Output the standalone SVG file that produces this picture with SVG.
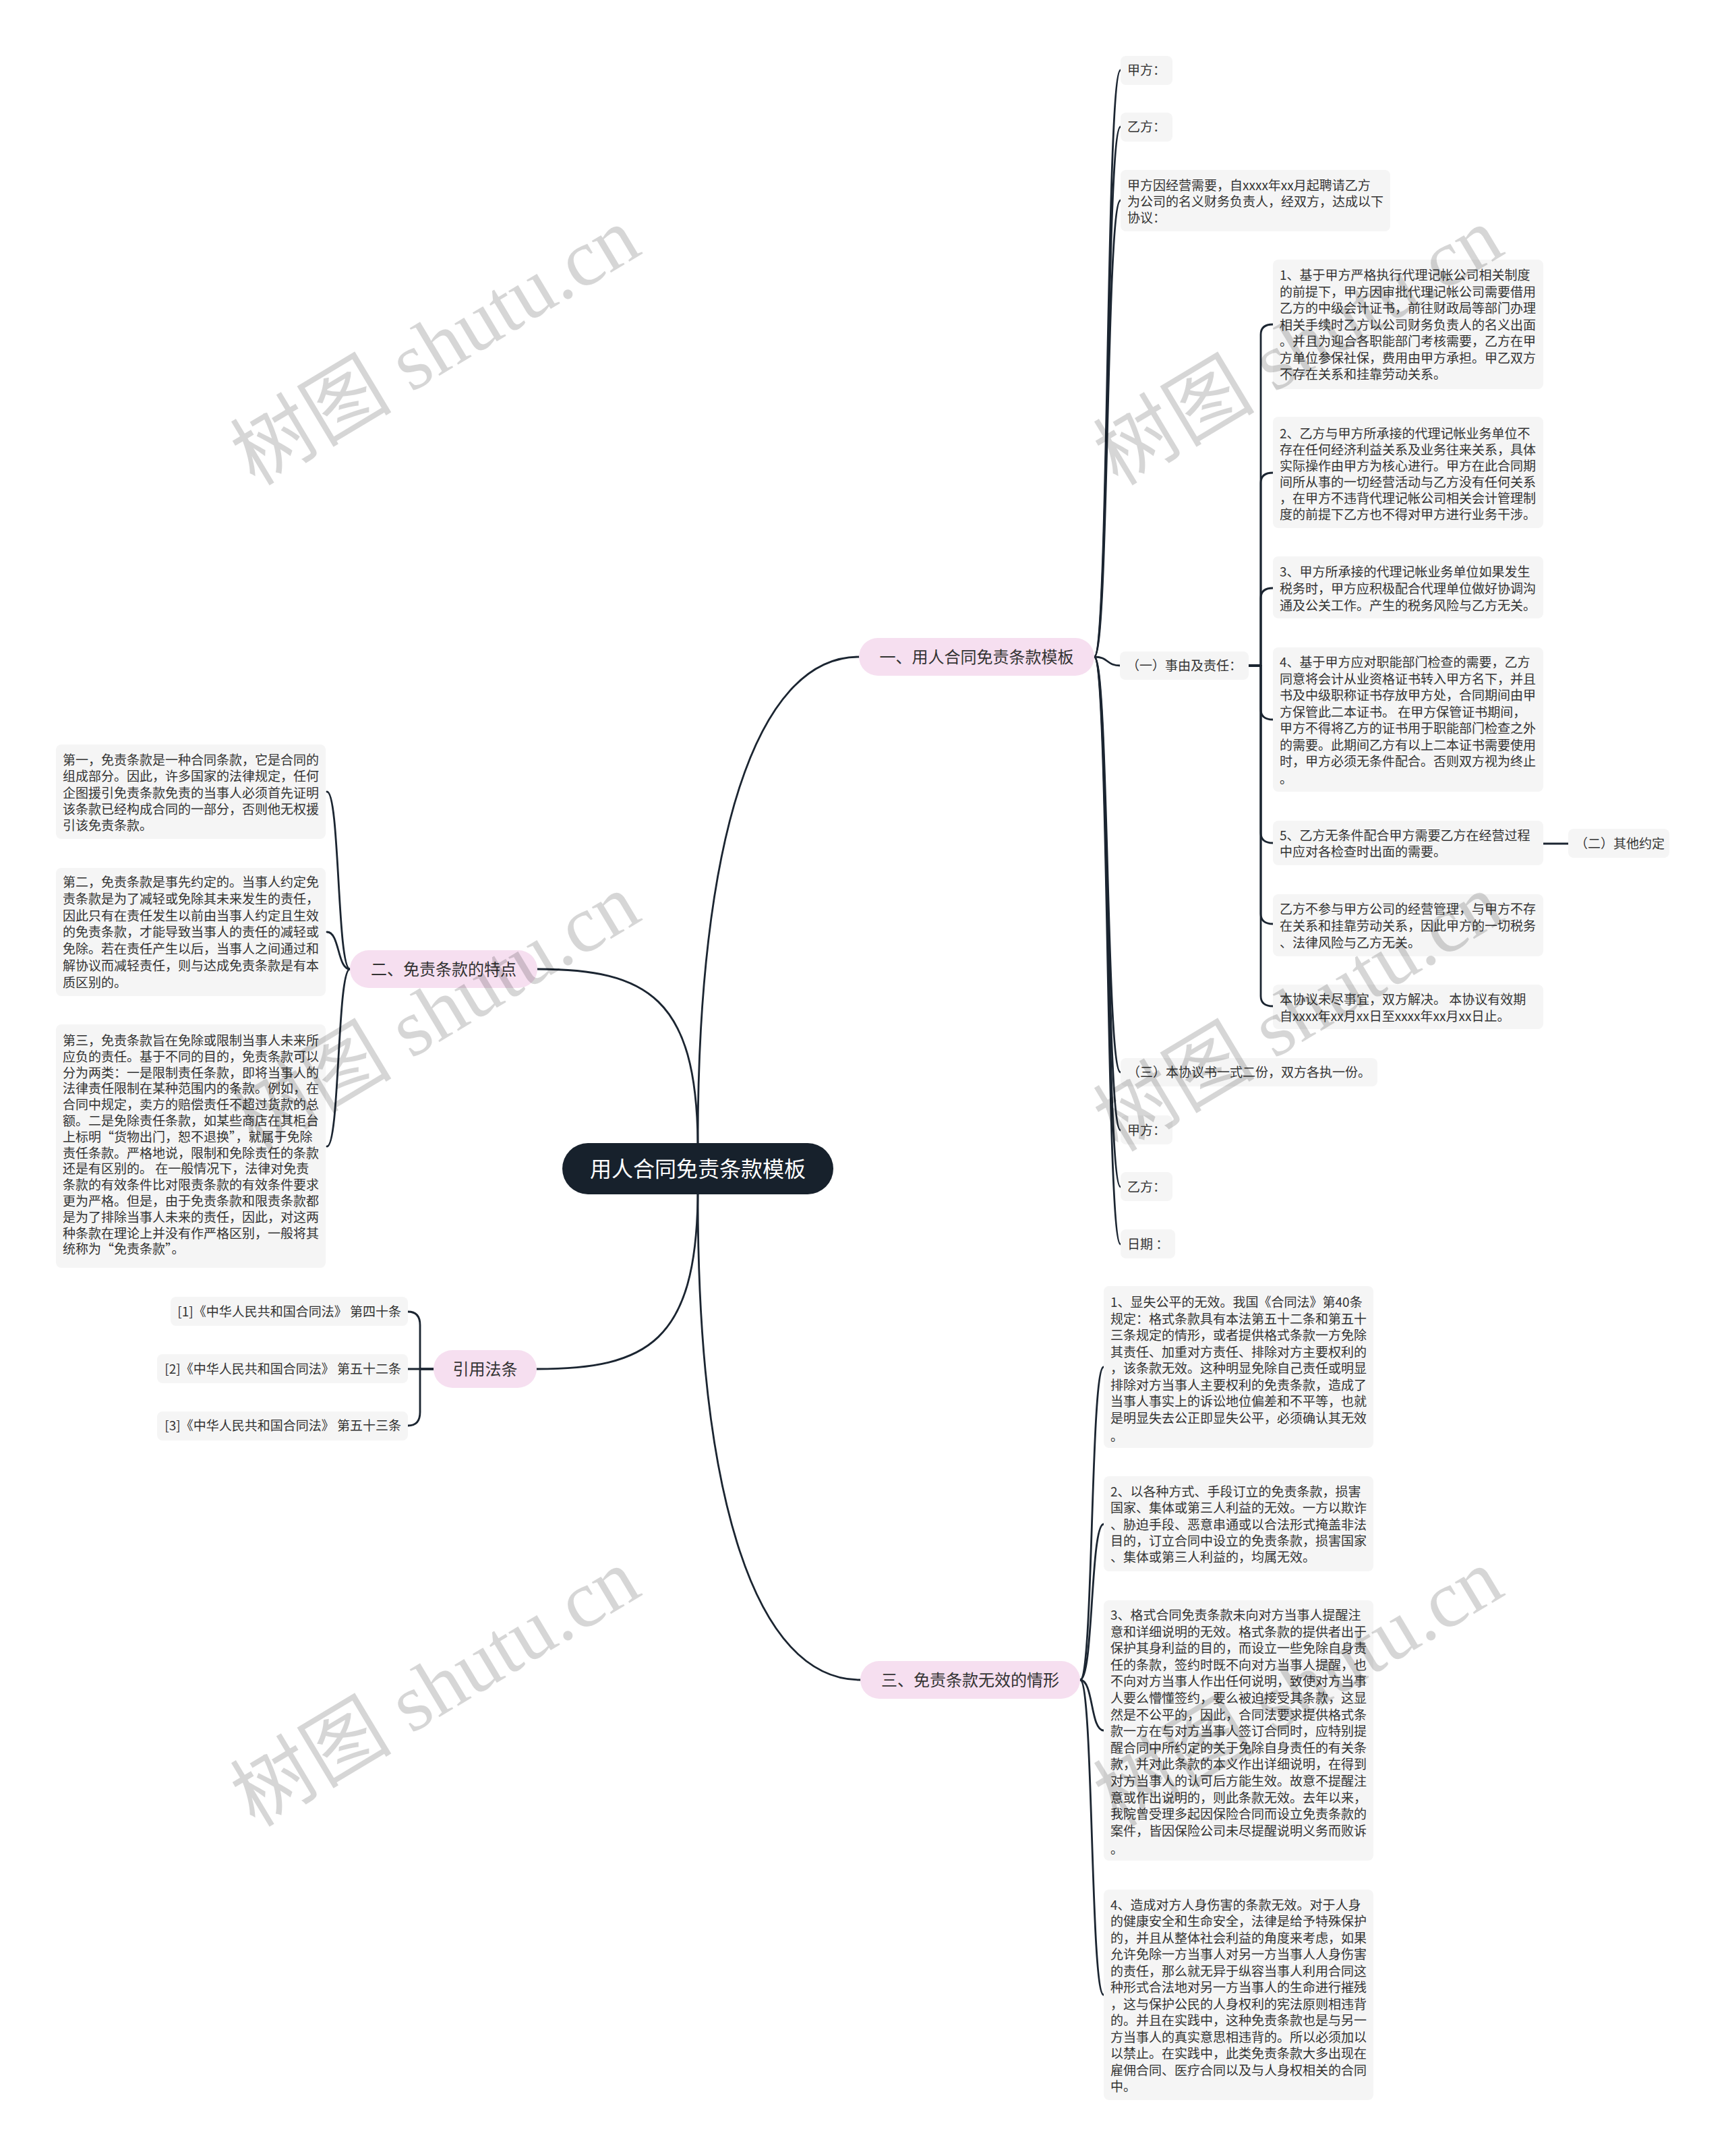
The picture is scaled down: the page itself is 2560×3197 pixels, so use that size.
<svg xmlns="http://www.w3.org/2000/svg" width="2560" height="3197" viewBox="0 0 2560 3197">
<style>
.bg{fill:#ffffff}
.leaf{fill:#f5f5f5}
.pink{fill:#f6dff0}
.root{fill:#17212c}
.t{font-family:"Noto Sans CJK SC","Liberation Sans",sans-serif;font-size:19px;fill:#333333}
.bt{font-family:"Noto Sans CJK SC","Liberation Sans",sans-serif;font-size:24px;fill:#333333}
.rt{font-family:"Noto Sans CJK SC","Liberation Sans",sans-serif;font-size:32px;fill:#ffffff}
.link{fill:none;stroke:#1b2531;stroke-width:2.8;stroke-linecap:round;stroke-linejoin:round}
.wm{font-family:"Liberation Serif","Noto Sans CJK SC",serif;font-size:120px;fill:#000000;fill-opacity:0.16}
</style>
<rect class="bg" x="0" y="0" width="2560" height="3197"/>

<g id="connectors">
  <!-- root to main branches -->
  <path class="link" d="M1035 1695 C1035 1250 1120 974 1274 974"/>
  <path class="link" d="M797 1437 C960 1437 1033 1480 1035 1695"/>
  <path class="link" d="M796 2030 C960 2030 1033 1990 1035 1771"/>
  <path class="link" d="M1035 1771 C1035 2220 1120 2491 1276 2491"/>
  <!-- branch 1 children -->
  <path class="link" d="M1623 974 C1645 974 1640 104 1662 104"/>
  <path class="link" d="M1623 974 C1645 974 1640 188 1662 188"/>
  <path class="link" d="M1623 974 C1645 974 1640 297 1662 297"/>
  <path class="link" d="M1623 974 C1645 974 1640 987 1662 987"/>
  <path class="link" d="M1623 974 C1645 974 1640 1590 1662 1590"/>
  <path class="link" d="M1623 974 C1645 974 1640 1676 1662 1676"/>
  <path class="link" d="M1623 974 C1645 974 1640 1760 1662 1760"/>
  <path class="link" d="M1623 974 C1645 974 1640 1845 1662 1845"/>
  <!-- (一) bracket -->
  <path class="link" d="M1852 987 H1870 V496 Q1870 481 1888 481"/>
  <path class="link" d="M1852 987 H1870 V716 Q1870 701 1888 701"/>
  <path class="link" d="M1852 987 H1870 V887 Q1870 872 1888 872"/>
  <path class="link" d="M1852 987 H1870 V1052 Q1870 1067 1888 1067"/>
  <path class="link" d="M1852 987 H1870 V1235 Q1870 1250 1888 1250"/>
  <path class="link" d="M1852 987 H1870 V1355 Q1870 1370 1888 1370"/>
  <path class="link" d="M1852 987 H1870 V1477 Q1870 1492 1888 1492"/>
  <path class="link" d="M2288 1251 H2326"/>
  <!-- branch 2 children -->
  <path class="link" d="M519 1437 C500 1437 504 1174 485 1174"/>
  <path class="link" d="M519 1437 C500 1437 504 1382 485 1382"/>
  <path class="link" d="M519 1437 C500 1437 504 1700 485 1700"/>
  <!-- law bracket -->
  <path class="link" d="M643 2030 H605"/>
  <path class="link" d="M643 2030 H623 V1965 Q623 1945 605 1945"/>
  <path class="link" d="M643 2030 H623 V2094 Q623 2114 605 2114"/>
  <!-- branch 3 children -->
  <path class="link" d="M1602 2491 C1622 2491 1617 2027 1637 2027"/>
  <path class="link" d="M1602 2491 C1622 2491 1617 2260 1637 2260"/>
  <path class="link" d="M1602 2491 C1622 2491 1617 2566 1637 2566"/>
  <path class="link" d="M1602 2491 C1622 2491 1617 2958 1637 2958"/>
</g>

<g id="root">
  <rect class="root" x="834" y="1695" width="402" height="76" rx="38"/>
  <text class="rt" x="1035" y="1745" text-anchor="middle">用人合同免责条款模板</text>
</g>

<g id="branch1">
  <rect class="pink" x="1274" y="946" width="349" height="56" rx="28"/>
  <text class="bt" x="1448.5" y="983" text-anchor="middle">一、用人合同免责条款模板</text>
</g>
<g id="branch2">
  <rect class="pink" x="519" y="1409" width="278" height="56" rx="28"/>
  <text class="bt" x="658" y="1446" text-anchor="middle">二、免责条款的特点</text>
</g>
<g id="branch-law">
  <rect class="pink" x="643" y="2002" width="153" height="56" rx="28"/>
  <text class="bt" x="719.5" y="2039" text-anchor="middle">引用法条</text>
</g>
<g id="branch3">
  <rect class="pink" x="1276" y="2463" width="326" height="56" rx="28"/>
  <text class="bt" x="1439" y="2500" text-anchor="middle">三、免责条款无效的情形</text>
</g>

<g id="n-jiafang1">
  <rect class="leaf" x="1662" y="83" width="77" height="43" rx="8"/>
  <text class="t" x="1672" y="111">甲方：</text>
</g>
<g id="n-yifang1">
  <rect class="leaf" x="1662" y="167" width="77" height="43" rx="8"/>
  <text class="t" x="1672" y="195">乙方：</text>
</g>
<g id="n-intro">
  <rect class="leaf" x="1662" y="252" width="400" height="91" rx="8"/>
  <text class="t" x="1672" y="282"><tspan x="1672">甲方因经营需要，自xxxx年xx月起聘请乙方</tspan><tspan x="1672" dy="24">为公司的名义财务负责人，经双方，达成以下</tspan><tspan x="1672" dy="24">协议：</tspan></text>
</g>
<g id="n-shiyou">
  <rect class="leaf" x="1661" y="966" width="191" height="42" rx="8"/>
  <text class="t" x="1671" y="994">（一）事由及责任：</text>
</g>
<g id="n-item1">
  <rect class="leaf" x="1888" y="385" width="401" height="192" rx="8"/>
  <text class="t" x="1898" y="415"><tspan x="1898">1、基于甲方严格执行代理记帐公司相关制度</tspan><tspan x="1898" dy="24.5">的前提下，甲方因审批代理记帐公司需要借用</tspan><tspan x="1898" dy="24.5">乙方的中级会计证书，前往财政局等部门办理</tspan><tspan x="1898" dy="24.5">相关手续时乙方以公司财务负责人的名义出面</tspan><tspan x="1898" dy="24.5">。并且为迎合各职能部门考核需要，乙方在甲</tspan><tspan x="1898" dy="24.5">方单位参保社保，费用由甲方承担。甲乙双方</tspan><tspan x="1898" dy="24.5">不存在关系和挂靠劳动关系。</tspan></text>
</g>
<g id="n-item2">
  <rect class="leaf" x="1888" y="618" width="401" height="165" rx="8"/>
  <text class="t" x="1898" y="650"><tspan x="1898">2、乙方与甲方所承接的代理记帐业务单位不</tspan><tspan x="1898" dy="24">存在任何经济利益关系及业务往来关系，具体</tspan><tspan x="1898" dy="24">实际操作由甲方为核心进行。甲方在此合同期</tspan><tspan x="1898" dy="24">间所从事的一切经营活动与乙方没有任何关系</tspan><tspan x="1898" dy="24">，在甲方不违背代理记帐公司相关会计管理制</tspan><tspan x="1898" dy="24">度的前提下乙方也不得对甲方进行业务干涉。</tspan></text>
</g>
<g id="n-item3">
  <rect class="leaf" x="1888" y="825" width="401" height="92" rx="8"/>
  <text class="t" x="1898" y="855"><tspan x="1898">3、甲方所承接的代理记帐业务单位如果发生</tspan><tspan x="1898" dy="25">税务时，甲方应积极配合代理单位做好协调沟</tspan><tspan x="1898" dy="25">通及公关工作。产生的税务风险与乙方无关。</tspan></text>
</g>
<g id="n-item4">
  <rect class="leaf" x="1888" y="960" width="401" height="214" rx="8"/>
  <text class="t" x="1898" y="989"><tspan x="1898">4、基于甲方应对职能部门检查的需要，乙方</tspan><tspan x="1898" dy="24.5">同意将会计从业资格证书转入甲方名下，并且</tspan><tspan x="1898" dy="24.5">书及中级职称证书存放甲方处，合同期间由甲</tspan><tspan x="1898" dy="24.5">方保管此二本证书。 在甲方保管证书期间，</tspan><tspan x="1898" dy="24.5">甲方不得将乙方的证书用于职能部门检查之外</tspan><tspan x="1898" dy="24.5">的需要。此期间乙方有以上二本证书需要使用</tspan><tspan x="1898" dy="24.5">时，甲方必须无条件配合。否则双方视为终止</tspan><tspan x="1898" dy="26">。</tspan></text>
</g>
<g id="n-item5">
  <rect class="leaf" x="1888" y="1217" width="401" height="66" rx="8"/>
  <text class="t" x="1898" y="1246"><tspan x="1898">5、乙方无条件配合甲方需要乙方在经营过程</tspan><tspan x="1898" dy="24">中应对各检查时出面的需要。</tspan></text>
</g>
<g id="n-other">
  <rect class="leaf" x="2326" y="1229" width="150" height="43" rx="8"/>
  <text class="t" x="2336" y="1258">（二）其他约定</text>
</g>
<g id="n-item6">
  <rect class="leaf" x="1888" y="1326" width="401" height="92" rx="8"/>
  <text class="t" x="1898" y="1355"><tspan x="1898">乙方不参与甲方公司的经营管理，与甲方不存</tspan><tspan x="1898" dy="25">在关系和挂靠劳动关系，因此甲方的一切税务</tspan><tspan x="1898" dy="25">、法律风险与乙方无关。</tspan></text>
</g>
<g id="n-item7">
  <rect class="leaf" x="1888" y="1460" width="401" height="66" rx="8"/>
  <text class="t" x="1898" y="1489"><tspan x="1898">本协议未尽事宜，双方解决。 本协议有效期</tspan><tspan x="1898" dy="25">自xxxx年xx月xx日至xxxx年xx月xx日止。</tspan></text>
</g>
<g id="n-san">
  <rect class="leaf" x="1662" y="1569" width="381" height="42" rx="8"/>
  <text class="t" x="1672" y="1597">（三）本协议书一式二份，双方各执一份。</text>
</g>
<g id="n-jiafang2">
  <rect class="leaf" x="1662" y="1654" width="77" height="43" rx="8"/>
  <text class="t" x="1672" y="1683">甲方：</text>
</g>
<g id="n-yifang2">
  <rect class="leaf" x="1662" y="1738" width="77" height="43" rx="8"/>
  <text class="t" x="1672" y="1767">乙方：</text>
</g>
<g id="n-date">
  <rect class="leaf" x="1662" y="1823" width="81" height="43" rx="8"/>
  <text class="t" x="1672" y="1852">日期 ：</text>
</g>

<g id="n-feature1">
  <rect class="leaf" x="83" y="1104" width="400" height="140" rx="8"/>
  <text class="t" x="93" y="1134"><tspan x="93">第一，免责条款是一种合同条款，它是合同的</tspan><tspan x="93" dy="24.3">组成部分。因此，许多国家的法律规定，任何</tspan><tspan x="93" dy="24.3">企图援引免责条款免责的当事人必须首先证明</tspan><tspan x="93" dy="24.3">该条款已经构成合同的一部分，否则他无权援</tspan><tspan x="93" dy="24.3">引该免责条款。</tspan></text>
</g>
<g id="n-feature2">
  <rect class="leaf" x="83" y="1287" width="400" height="190" rx="8"/>
  <text class="t" x="93" y="1315"><tspan x="93">第二，免责条款是事先约定的。当事人约定免</tspan><tspan x="93" dy="24.8">责条款是为了减轻或免除其未来发生的责任，</tspan><tspan x="93" dy="24.8">因此只有在责任发生以前由当事人约定且生效</tspan><tspan x="93" dy="24.8">的免责条款，才能导致当事人的责任的减轻或</tspan><tspan x="93" dy="24.8">免除。若在责任产生以后，当事人之间通过和</tspan><tspan x="93" dy="24.8">解协议而减轻责任，则与达成免责条款是有本</tspan><tspan x="93" dy="24.8">质区别的。</tspan></text>
</g>
<g id="n-feature3">
  <rect class="leaf" x="83" y="1519" width="400" height="361" rx="8"/>
  <text class="t" x="93" y="1550"><tspan x="93">第三，免责条款旨在免除或限制当事人未来所</tspan><tspan x="93" dy="23.8">应负的责任。基于不同的目的，免责条款可以</tspan><tspan x="93" dy="23.8">分为两类：一是限制责任条款，即将当事人的</tspan><tspan x="93" dy="23.8">法律责任限制在某种范围内的条款。例如，在</tspan><tspan x="93" dy="23.8">合同中规定，卖方的赔偿责任不超过货款的总</tspan><tspan x="93" dy="23.8">额。二是免除责任条款，如某些商店在其柜台</tspan><tspan x="93" dy="23.8">上标明“货物出门，恕不退换”，就属于免除</tspan><tspan x="93" dy="23.8">责任条款。严格地说，限制和免除责任的条款</tspan><tspan x="93" dy="23.8">还是有区别的。 在一般情况下，法律对免责</tspan><tspan x="93" dy="23.8">条款的有效条件比对限责条款的有效条件要求</tspan><tspan x="93" dy="23.8">更为严格。但是，由于免责条款和限责条款都</tspan><tspan x="93" dy="23.8">是为了排除当事人未来的责任，因此，对这两</tspan><tspan x="93" dy="23.8">种条款在理论上并没有作严格区别，一般将其</tspan><tspan x="93" dy="23.8">统称为“免责条款”。</tspan></text>
</g>

<g id="n-law1">
  <rect class="leaf" x="253" y="1923" width="352" height="43" rx="8"/>
  <text class="t" x="595" y="1952" text-anchor="end">[1]《中华人民共和国合同法》 第四十条</text>
</g>
<g id="n-law2">
  <rect class="leaf" x="233" y="2008" width="372" height="43" rx="8"/>
  <text class="t" x="595" y="2037" text-anchor="end">[2]《中华人民共和国合同法》 第五十二条</text>
</g>
<g id="n-law3">
  <rect class="leaf" x="233" y="2093" width="372" height="43" rx="8"/>
  <text class="t" x="595" y="2121" text-anchor="end">[3]《中华人民共和国合同法》 第五十三条</text>
</g>

<g id="n-invalid1">
  <rect class="leaf" x="1637" y="1907" width="400" height="240" rx="8"/>
  <text class="t" x="1647" y="1938"><tspan x="1647">1、显失公平的无效。我国《合同法》第40条</tspan><tspan x="1647" dy="24.5">规定：格式条款具有本法第五十二条和第五十</tspan><tspan x="1647" dy="24.5">三条规定的情形，或者提供格式条款一方免除</tspan><tspan x="1647" dy="24.5">其责任、加重对方责任、排除对方主要权利的</tspan><tspan x="1647" dy="24.5">，该条款无效。这种明显免除自己责任或明显</tspan><tspan x="1647" dy="24.5">排除对方当事人主要权利的免责条款，造成了</tspan><tspan x="1647" dy="24.5">当事人事实上的诉讼地位偏差和不平等，也就</tspan><tspan x="1647" dy="24.5">是明显失去公正即显失公平，必须确认其无效</tspan><tspan x="1647" dy="27">。</tspan></text>
</g>
<g id="n-invalid2">
  <rect class="leaf" x="1637" y="2189" width="400" height="141" rx="8"/>
  <text class="t" x="1647" y="2219"><tspan x="1647">2、以各种方式、手段订立的免责条款，损害</tspan><tspan x="1647" dy="24.3">国家、集体或第三人利益的无效。一方以欺诈</tspan><tspan x="1647" dy="24.3">、胁迫手段、恶意串通或以合法形式掩盖非法</tspan><tspan x="1647" dy="24.3">目的，订立合同中设立的免责条款，损害国家</tspan><tspan x="1647" dy="24.3">、集体或第三人利益的，均属无效。</tspan></text>
</g>
<g id="n-invalid3">
  <rect class="leaf" x="1637" y="2373" width="400" height="386" rx="8"/>
  <text class="t" x="1647" y="2402"><tspan x="1647">3、格式合同免责条款未向对方当事人提醒注</tspan><tspan x="1647" dy="24.6">意和详细说明的无效。格式条款的提供者出于</tspan><tspan x="1647" dy="24.6">保护其身利益的目的，而设立一些免除自身责</tspan><tspan x="1647" dy="24.6">任的条款，签约时既不向对方当事人提醒，也</tspan><tspan x="1647" dy="24.6">不向对方当事人作出任何说明，致使对方当事</tspan><tspan x="1647" dy="24.6">人要么懵懂签约，要么被迫接受其条款，这显</tspan><tspan x="1647" dy="24.6">然是不公平的，因此，合同法要求提供格式条</tspan><tspan x="1647" dy="24.6">款一方在与对方当事人签订合同时，应特别提</tspan><tspan x="1647" dy="24.6">醒合同中所约定的关于免除自身责任的有关条</tspan><tspan x="1647" dy="24.6">款，并对此条款的本义作出详细说明，在得到</tspan><tspan x="1647" dy="24.6">对方当事人的认可后方能生效。故意不提醒注</tspan><tspan x="1647" dy="24.6">意或作出说明的，则此条款无效。去年以来，</tspan><tspan x="1647" dy="24.6">我院曾受理多起因保险合同而设立免责条款的</tspan><tspan x="1647" dy="24.6">案件，皆因保险公司未尽提醒说明义务而败诉</tspan><tspan x="1647" dy="27">。</tspan></text>
</g>
<g id="n-invalid4">
  <rect class="leaf" x="1637" y="2802" width="400" height="312" rx="8"/>
  <text class="t" x="1647" y="2832"><tspan x="1647">4、造成对方人身伤害的条款无效。对于人身</tspan><tspan x="1647" dy="24.46">的健康安全和生命安全，法律是给予特殊保护</tspan><tspan x="1647" dy="24.46">的，并且从整体社会利益的角度来考虑，如果</tspan><tspan x="1647" dy="24.46">允许免除一方当事人对另一方当事人人身伤害</tspan><tspan x="1647" dy="24.46">的责任，那么就无异于纵容当事人利用合同这</tspan><tspan x="1647" dy="24.46">种形式合法地对另一方当事人的生命进行摧残</tspan><tspan x="1647" dy="24.46">，这与保护公民的人身权利的宪法原则相违背</tspan><tspan x="1647" dy="24.46">的。并且在实践中，这种免责条款也是与另一</tspan><tspan x="1647" dy="24.46">方当事人的真实意思相违背的。所以必须加以</tspan><tspan x="1647" dy="24.46">以禁止。在实践中，此类免责条款大多出现在</tspan><tspan x="1647" dy="24.46">雇佣合同、医疗合同以及与人身权相关的合同</tspan><tspan x="1647" dy="24.46">中。</tspan></text>
</g>

<g id="watermarks">
  <text class="wm" transform="translate(646 514) rotate(-31)" x="0" y="40" text-anchor="middle">树图 shutu.cn</text>
  <text class="wm" transform="translate(1926 514) rotate(-31)" x="0" y="40" text-anchor="middle">树图 shutu.cn</text>
  <text class="wm" transform="translate(646 1502) rotate(-31)" x="0" y="40" text-anchor="middle">树图 shutu.cn</text>
  <text class="wm" transform="translate(1926 1502) rotate(-31)" x="0" y="40" text-anchor="middle">树图 shutu.cn</text>
  <text class="wm" transform="translate(646 2503) rotate(-31)" x="0" y="40" text-anchor="middle">树图 shutu.cn</text>
  <text class="wm" transform="translate(1926 2503) rotate(-31)" x="0" y="40" text-anchor="middle">树图 shutu.cn</text>
</g>
</svg>
